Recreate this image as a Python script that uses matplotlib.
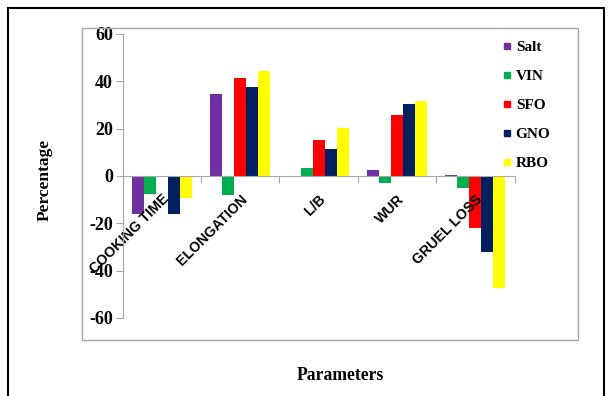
import matplotlib
matplotlib.use("Agg")
import matplotlib.pyplot as plt
import numpy as np
from matplotlib.patches import Rectangle
from matplotlib.lines import Line2D

categories = ["COOKING TIME", "ELONGATION", "L/B", "WUR", "GRUEL LOSS"]
series_names = ["Salt", "VIN", "SFO", "GNO", "RBO"]
salt = [-16.0, 34.8, 0.0, 2.7, 0.6]
vin = [-7.5, -7.9, 3.2, -3.0, -5.2]
sfo = [0.0, 41.4, 15.4, 25.8, -22.0]
gno = [-16.0, 37.5, 11.4, 30.3, -32.3]
rbo = [-9.3, 44.2, 20.3, 31.7, -47.5]
yticks = [-60, -40, -20, 0, 20, 40, 60]
colors = ["#7030A0", "#00B050", "#FF0000", "#002060", "#FFFF00"]

W, H = 608, 396
fig = plt.figure(figsize=(W / 100, H / 100), dpi=100)

# outer frames
fig.add_artist(Rectangle((8 / W, -0.01), (604 - 8) / W, (H - 8) / H + 0.01,
                         transform=fig.transFigure, fill=False, ec="black", lw=1.5))
fig.add_artist(Rectangle((82 / W, (H - 340) / H), (578 - 82) / W, (340 - 28) / H,
                         transform=fig.transFigure, fill=False, ec="#A6A6A6", lw=1.0))

ax = fig.add_axes([122.7 / W, (H - 318) / H, (514.5 - 122.7) / W, (318 - 34) / H])
data = [salt, vin, sfo, gno, rbo]
n = len(series_names)
bw = 1.0 / (n + 1.5)
x = np.arange(len(categories))
for i, (vals, c, name) in enumerate(zip(data, colors, series_names)):
    offs = (i - (n - 1) / 2) * bw
    ax.bar(x + offs, vals, width=bw, color=c, label=name, zorder=1)

ax.set_xlim(-0.5, len(categories) - 0.5)
ax.set_ylim(-60, 60)
ax.set_yticks(yticks)
ax.set_yticklabels([str(v) for v in yticks], fontfamily="Liberation Serif",
                   fontweight="bold", fontsize=13)
for s in ["top", "right"]:
    ax.spines[s].set_visible(False)
ax.spines["left"].set_color("#A6A6A6")
ax.spines["bottom"].set_color("#A6A6A6")
ax.spines["bottom"].set_position(("data", 0))
ax.tick_params(axis="y", direction="out", length=5, color="#A6A6A6", pad=2)
ax.set_xticks(np.arange(len(categories) + 1) - 0.5)
ax.set_xticklabels([])
ax.tick_params(axis="x", which="major", direction="out", length=5, color="#A6A6A6")
ax.set_xticks(x, minor=True)
ax.set_xticklabels(categories, minor=True, rotation=45, ha="right", va="top",
                   rotation_mode="anchor", fontfamily="Liberation Sans",
                   fontweight="bold", fontsize=10.2)
ax.tick_params(axis="x", which="minor", length=0, pad=11.5)
ax.patch.set_alpha(0)

handles = [Line2D([], [], marker="s", ls="none", color=c, markersize=5) for c in colors]
leg = fig.legend(handles, series_names, loc="upper left",
                 bbox_to_anchor=(502 / W, 1 - 40.5 / H), frameon=False,
                 prop={"family": "Liberation Serif", "weight": "bold", "size": 11},
                 labelspacing=1.0, handlelength=0.6, handletextpad=0.3,
                 borderaxespad=0, borderpad=0)

fig.text(45 / W, 1 - 180 / H, "Percentage", rotation=90, ha="center", va="center",
         fontfamily="Liberation Serif", fontweight="bold", fontsize=12.5)
fig.text(340 / W, 1 - 376 / H, "Parameters", ha="center", va="center",
         fontfamily="Liberation Serif", fontweight="bold", fontsize=12.7)

fig.savefig("out.png", dpi=100)
